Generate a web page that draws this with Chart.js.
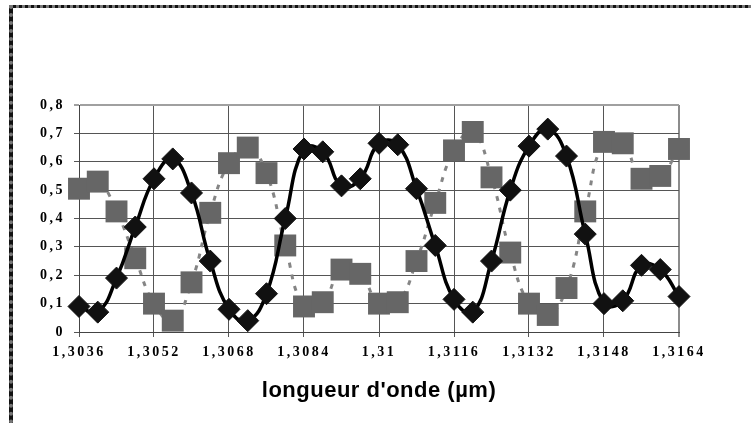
<!DOCTYPE html>
<html>
<head>
<meta charset="utf-8">
<script src="https://cdn.jsdelivr.net/npm/chart.js@4"></script>
<style>
    body { margin: 0; background: #fff; }
    #frame {
        position: absolute; left: 9px; top: 5px; width: 800px; height: 480px;
        border-top: 3px dotted #777; border-left: 4px dotted #777;
        background: linear-gradient(#fff, #fff) padding-box, linear-gradient(#111, #111) border-box;
    }
    #spectre { position: absolute; left: 0; top: 0; }
</style>
</head>
<body>
<div id="frame"></div>
<canvas id="spectre" width="751" height="423"></canvas>
<script>
// longueurs d'onde (µm)
const wavelengths = [
    1.3036, 1.3040, 1.3044, 1.3048, 1.3052, 1.3056, 1.3060, 1.3064,
    1.3068, 1.3072, 1.3076, 1.3080, 1.3084, 1.3088, 1.3092, 1.3096,
    1.3100, 1.3104, 1.3108, 1.3112, 1.3116, 1.3120, 1.3124, 1.3128,
    1.3132, 1.3136, 1.3140, 1.3144, 1.3148, 1.3152, 1.3156, 1.3160, 1.3164
];
// courbe noire (losanges)
const serieNoire = [
    0.09, 0.07, 0.19, 0.37, 0.54, 0.61, 0.49, 0.25,
    0.08, 0.04, 0.135, 0.40, 0.645, 0.635, 0.515, 0.54,
    0.665, 0.66, 0.505, 0.305, 0.115, 0.07, 0.25, 0.50,
    0.655, 0.715, 0.62, 0.345, 0.10, 0.11, 0.235, 0.22, 0.125
];
// courbe grise (carrés, pointillés)
const serieGrise = [
    0.505, 0.53, 0.425, 0.26, 0.10, 0.04, 0.175, 0.42,
    0.595, 0.65, 0.56, 0.305, 0.09, 0.105, 0.22, 0.205,
    0.10, 0.105, 0.25, 0.455, 0.64, 0.705, 0.545, 0.28,
    0.10, 0.06, 0.155, 0.425, 0.67, 0.665, 0.54, 0.55, 0.645
];
const xTicks = [1.3036, 1.3052, 1.3068, 1.3084, 1.31, 1.3116, 1.3132, 1.3148, 1.3164];
const yTicks = [0, 0.1, 0.2, 0.3, 0.4, 0.5, 0.6, 0.7, 0.8];

const virgule = (v, d) => String(+v.toFixed(d)).replace('.', ',');

// espacement des lettres comme dans Excel
const espacement = {
    id: 'espacement',
    beforeDraw(chart) {
        chart.ctx.letterSpacing = '2.5px';
        const x = chart.scales.x;
        if (!x._titreOk) {
            const drawTitle = x.drawTitle.bind(x);
            x.drawTitle = function () {
                this.ctx.letterSpacing = '0.5px';
                drawTitle();
                this.ctx.letterSpacing = '2.5px';
            };
            x._titreOk = true;
        }
    }
};

document.addEventListener('DOMContentLoaded', () => {
    const ctx = document.getElementById('spectre').getContext('2d');
    const tickFont = { family: '"Liberation Serif", "Times New Roman", serif', size: 14, weight: 'bold' };

    new Chart(ctx, {
        type: 'line',
        data: {
            datasets: [
                {
                    label: 'noire',
                    data: wavelengths.map((w, i) => ({ x: w, y: serieNoire[i] })),
                    borderColor: '#000',
                    borderWidth: 3.5,
                    tension: 0.45,
                    pointStyle: 'rectRot',
                    pointRadius: 11,
                    pointBackgroundColor: '#111',
                    pointBorderColor: '#111',
                    pointBorderWidth: 1,
                    clip: false
                },
                {
                    label: 'grise',
                    data: wavelengths.map((w, i) => ({ x: w, y: serieGrise[i] })),
                    borderColor: '#858585',
                    borderWidth: 3,
                    borderDash: [5, 7],
                    tension: 0.45,
                    pointStyle: 'rect',
                    pointRadius: 15.5,
                    pointBackgroundColor: '#666',
                    pointBorderColor: '#666',
                    pointBorderWidth: 0,
                    clip: false
                }
            ]
        },
        options: {
            responsive: false,
            animation: false,
            devicePixelRatio: 1,
            layout: { padding: { top: 105, right: 72, bottom: 19, left: 0 } },
            plugins: {
                legend: { display: false },
                tooltip: { enabled: false }
            },
            scales: {
                x: {
                    type: 'linear',
                    min: 1.3036,
                    max: 1.3164,
                    afterBuildTicks: s => { s.ticks = xTicks.map(v => ({ value: v })); },
                    afterFit: s => { s.height = 72; },
                    ticks: {
                        font: tickFont,
                        color: '#000',
                        padding: 7,
                        maxRotation: 0,
                        autoSkip: false,
                        callback: v => virgule(v, 4)
                    },
                    grid: {
                        color: c => (c.tick && c.tick.value === 1.3164 ? '#8c8c8c' : '#555'),
                        lineWidth: c => (c.tick && c.tick.value === 1.3164 ? 2 : 1),
                        tickLength: 5
                    },
                    border: { color: '#444' },
                    title: {
                        display: true,
                        text: "longueur d'onde (µm)",
                        font: { family: '"Liberation Sans", Arial, sans-serif', size: 22, weight: 'bold' },
                        color: '#000',
                        padding: 0
                    }
                },
                y: {
                    min: 0,
                    max: 0.8,
                    afterBuildTicks: s => { s.ticks = yTicks.map(v => ({ value: v })); },
                    afterFit: s => { s.width = 79; },
                    ticks: {
                        font: tickFont,
                        color: '#000',
                        padding: 9,
                        callback: v => virgule(v, 1)
                    },
                    grid: {
                        color: c => (c.tick && c.tick.value === 0.8 ? '#a0a0a0' : '#555'),
                        lineWidth: c => (c.tick && c.tick.value === 0.8 ? 2 : 1),
                        tickLength: 5
                    },
                    border: { color: '#444' }
                }
            }
        },
        plugins: [espacement]
    });
});
</script>
</body>
</html>
